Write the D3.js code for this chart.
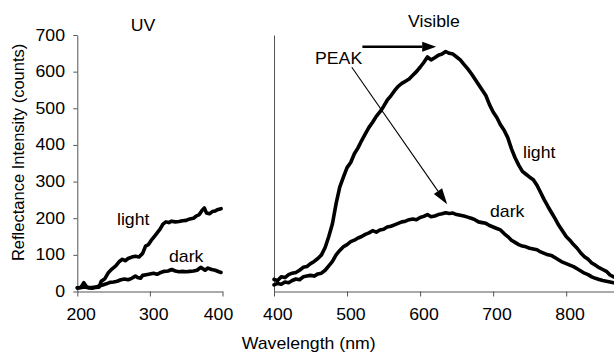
<!DOCTYPE html>
<html>
<head>
<meta charset="utf-8">
<script src="https://cdn.jsdelivr.net/npm/d3@7"></script>
<style>
  body { margin: 0; background: #fff; }
  svg { display: block; font-family: "Liberation Sans", Arial, sans-serif; }
  .axis path, .axis line { stroke: #555; stroke-width: 1; }
  .axis text { font-size: 15.8px; fill: #000; }
</style>
</head>
<body>
<svg id="chart" width="614" height="354"></svg>
<script>
/// Reflectance spectra, UV + Visible ///

// UV panel (nm / counts)
const uvWave  = [200,205,209,213,220,225,230,233,238,243,248,253,258,262,266,270,275,280,285,290,294,298,302,306,310,314,318,322,326,330,335,340,345,350,355,360,364,368,372,375,378,382,386,390,394,398];
const uvLight = [ 10, 11, 24, 12,  9, 11, 12, 28, 35, 52, 62, 70, 82, 88, 84, 90, 94, 96, 94,104,124,128,140,150,160,170,184,190,188,192,190,191,193,194,198,200,206,210,222,228,214,212,218,220,224,226];
const uvDarkWave = [200,205,210,215,220,225,230,235,240,245,250,255,260,265,270,275,280,283,287,290,295,300,305,310,315,320,325,330,335,340,345,350,355,360,365,370,373,376,380,385,390,395,398];
const uvDark  = [ 10, 11, 12, 10, 11, 12, 15, 18, 21, 25, 26, 28, 32, 34, 32, 36, 42, 38, 36, 44, 46, 48, 50, 47, 52, 55, 56, 60, 56, 54, 55, 54, 55, 56, 58, 66, 62, 58, 64, 60, 58, 54, 52];

// Visible panel
const visWave  = [400,405,410,415,420,425,430,435,440,445,450,455,460,465,470,475,480,485,490,495,500,505,510,515,520,525,530,535,540,545,550,555,560,565,570,575,580,585,590,595,600,605,610,615,620,625,630,635,640,645,650,655,660,665,670,675,680,685,690,695,700,705,710,715,720,725,730,735,740,745,750,755,760,765,770,775,780,785,790,795,800,805,810,815,820,825,830,835,840,845,850,855,860,865,870];
const visLight = [ 33, 30, 40, 38, 46, 50, 52, 58, 66, 68, 76, 82, 90,100,120,150,185,240,285,312,338,352,376,392,412,430,448,462,478,490,505,522,534,548,560,568,574,580,590,600,612,625,640,632,638,645,648,655,650,648,640,632,620,608,595,580,565,550,535,510,490,475,455,440,420,390,365,345,328,320,312,305,290,270,250,232,215,198,180,165,150,140,128,118,105, 95, 88, 78, 72, 65, 60, 55, 45, 40, 35];
const visDark  = [ 18, 22, 20, 26, 24, 30, 34, 32, 40, 42, 44, 42, 48, 50, 58, 70, 82,100,112,122,128,136,140,146,150,156,160,166,162,168,170,176,178,182,186,190,192,196,198,196,202,205,210,204,206,210,212,215,213,214,210,208,206,203,200,196,190,188,186,180,176,172,168,158,150,140,134,128,124,122,118,116,114,108,104,100, 98, 92, 86, 80, 76, 72, 68, 62, 56, 50, 46, 40, 36, 33, 30, 28, 26, 24, 22];

const yTicks = [0,100,200,300,400,500,600,700];
const uvTicks = [200,300,400];
const visTicks = [400,500,600,700,800];

const svg = d3.select("#chart");
const SX = 1.12; // text in the source is a bit wide

let y = d3.scaleLinear().domain([0,700]).range([291.5,35]);
let uvX = d3.scaleLinear().domain([200,400]).range([77.3,222.5]);
let visX = d3.scaleLinear().domain([400,870]).range([274,274+470*0.7305]);

function label(x, yy, txt, anchor, size){
    svg.append("text")
        .attr("transform", `translate(${x},${yy}) scale(${SX},1)`)
        .attr("text-anchor", anchor || "start")
        .style("font-size", (size || 15.8) + "px")
        .text(txt);
}

// axes
let gy = svg.append("g").attr("class","axis").attr("transform","translate(77.3,0)")
    .call(d3.axisLeft(y).tickValues(yTicks).tickSize(4).tickSizeOuter(0).tickPadding(7));
gy.selectAll("text").attr("transform", `scale(${SX},1)`);

let gux = svg.append("g").attr("class","axis").attr("transform","translate(0,291.5)")
    .call(d3.axisBottom(uvX).tickValues(uvTicks).tickSize(5).tickSizeOuter(0).tickPadding(12));
gux.selectAll("text").attr("transform", `scale(${SX},1)`).attr("dx", d => d == 400 ? -4 : 3);

svg.append("g").attr("class","axis").attr("transform","translate(274,0)")
    .call(d3.axisLeft(y).tickValues([]).tickSizeOuter(0));

let gvx = svg.append("g").attr("class","axis").attr("transform","translate(0,291.5)")
    .call(d3.axisBottom(visX).tickValues(visTicks).tickSize(5).tickSizeOuter(0).tickPadding(12));
gvx.selectAll("text").attr("transform", `scale(${SX},1)`).attr("dx", 3);

// lines
function drawLine(xs, ys, xScale){
    let line = d3.line().x((d,i) => xScale(xs[i])).y(d => y(d));
    svg.append("path").datum(ys)
        .attr("d", line)
        .attr("fill","none")
        .attr("stroke","#000")
        .attr("stroke-width",3.6)
        .attr("stroke-linejoin","round")
        .attr("stroke-linecap","round");
}
drawLine(uvDarkWave, uvDark, uvX);
drawLine(uvWave, uvLight, uvX);
drawLine(visWave, visDark, visX);
drawLine(visWave, visLight, visX);

// arrows to the peaks
function arrow(x1, y1, x2, y2, w, headLen, headHalf){
    let a = Math.atan2(y2-y1, x2-x1);
    let bx = x2 - headLen*Math.cos(a), by = y2 - headLen*Math.sin(a);
    svg.append("line").attr("x1",x1).attr("y1",y1).attr("x2",bx).attr("y2",by)
        .attr("stroke","#000").attr("stroke-width",w);
    let px = -Math.sin(a)*headHalf, py = Math.cos(a)*headHalf;
    svg.append("path")
        .attr("d", `M${x2},${y2}L${bx+px},${by+py}L${bx-px},${by-py}Z`)
        .attr("fill","#000");
}
arrow(visX(521), y(668), visX(622), y(668), 2.4, 14, 5);
arrow(visX(506.5), y(612), visX(637), y(238), 1.1, 16, 5);

// text
label(143, 30.5, "UV", "middle");
label(434, 26.5, "Visible", "middle");
label(315, 64, "PEAK");
label(117, 225, "light");
label(169, 261.7, "dark");
label(523, 157.5, "light");
label(490, 217.3, "dark");
label(241.7, 348.5, "Wavelength (nm)");

svg.append("text")
    .attr("transform","translate(24,152.4) rotate(-90)")
    .attr("text-anchor","middle")
    .style("font-size","16.5px")
    .text("Reflectance Intensity (counts)");
</script>
</body>
</html>
